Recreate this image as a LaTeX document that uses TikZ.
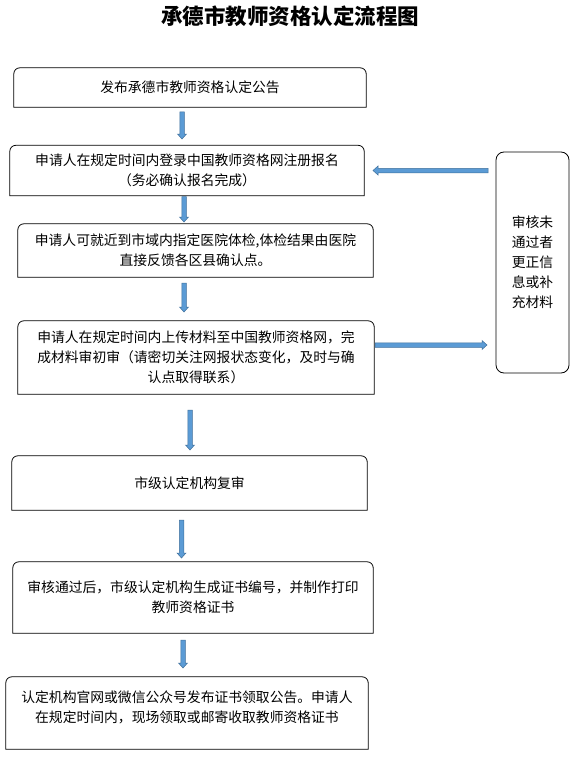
\documentclass[tikz,border=0pt]{standalone}
\usepackage{fontspec}
\setmainfont{Noto Sans CJK SC}
\usetikzlibrary{calc}
\definecolor{arrfill}{HTML}{5B9BD5}
\definecolor{arredge}{HTML}{41719C}
\tikzset{
  boxtext/.style={inner sep=0pt, align=center, font=\fontsize{13.8}{20}\selectfont},
  boxline/.style={draw=black, line width=0.8pt},
  blockarrow/.style={fill=arrfill, draw=arredge, line width=0.5pt},
}
\newcommand\topbox[1]{\draw[boxline] (#1.south west) -- ([yshift=-6pt]#1.north west) arc[start angle=180,end angle=90,radius=6pt] -- ([xshift=-6pt]#1.north east) arc[start angle=90,end angle=0,radius=6pt] -- (#1.south east) -- cycle;}
\newcommand\arrowdown[2]{\draw[blockarrow] let \p1=(#1),\p2=(#2) in (\x1-2.25pt,\y1) -- (\x1-2.25pt,\y2+5pt) -- (\x1-4.5pt,\y2+5pt) -- (\x1,\y2) -- (\x1+4.5pt,\y2+5pt) -- (\x1+2.25pt,\y2+5pt) -- (\x1+2.25pt,\y1) -- cycle;}
\newcommand\arrowleft[2]{\draw[blockarrow] let \p1=(#1),\p2=(#2) in (\x1,\y1-2.25pt) -- (\x2+5pt,\y1-2.25pt) -- (\x2+5pt,\y1-4.5pt) -- (\x2,\y1) -- (\x2+5pt,\y1+4.5pt) -- (\x2+5pt,\y1+2.25pt) -- (\x1,\y1+2.25pt) -- cycle;}
\newcommand\arrowright[2]{\draw[blockarrow] let \p1=(#1),\p2=(#2) in (\x1,\y1-2.25pt) -- (\x2-5pt,\y1-2.25pt) -- (\x2-5pt,\y1-4.5pt) -- (\x2,\y1) -- (\x2-5pt,\y1+4.5pt) -- (\x2-5pt,\y1+2.25pt) -- (\x1,\y1+2.25pt) -- cycle;}
\begin{document}
\begin{tikzpicture}[x=1pt,y=1pt]
\useasboundingbox[fill=white] (0,0) rectangle (581,-765);
% title
\node[font=\fontsize{21.5}{26}\selectfont\bfseries, inner sep=0pt] (title) at (290,-16.5) {承德市教师资格认定流程图};
% boxes
\node[boxtext, minimum width=352pt, minimum height=39pt] (b1) at (190,-87.5) {发布承德市教师资格认定公告};
\node[boxtext, minimum width=354pt, minimum height=50pt] (b2) at (187,-170.5) {申请人在规定时间内登录中国教师资格网注册报名\\（务必确认报名完成）};
\node[boxtext, minimum width=355pt, minimum height=53pt] (b3) at (195.5,-250.5) {申请人可就近到市域内指定医院体检,体检结果由医院\\直接反馈各区县确认点。};
\node[boxtext, minimum width=356pt, minimum height=73pt] (b4) at (196,-357.5) {申请人在规定时间内上传材料至中国教师资格网，完\\成材料审初审（请密切关注网报状态变化，及时与确\\认点取得联系）};
\node[boxtext, minimum width=355pt, minimum height=54pt] (b5) at (189.5,-483) {市级认定机构复审};
\node[boxtext, minimum width=360pt, minimum height=71pt] (b6) at (193,-597.5) {审核通过后，市级认定机构生成证书编号，并制作打印\\教师资格证书};
\node[boxtext, minimum width=362pt, minimum height=72pt] (b7) at (187,-713) {};
\node[boxtext] (t7) at (187,-707) {认定机构官网或微信公众号发布证书领取公告。申请人\\在规定时间内，现场领取或邮寄收取教师资格证书};
\node[boxtext, minimum width=73pt, minimum height=221pt, rounded corners=8pt, boxline] (r) at (532.5,-262.5) {审核未\\通过者\\更正信\\息或补\\充材料};
\foreach \b in {b1,b2,b3,b4,b5,b6,b7} {\topbox{\b}}
% arrow end points
\coordinate (a1s) at (182,-112);  \coordinate (a1e) at (182,-139);
\coordinate (a2s) at (184,-196.5);  \coordinate (a2e) at (184,-222);
\coordinate (a3s) at (184,-283);  \coordinate (a3e) at (184,-312);
\coordinate (a4s) at (190,-410);  \coordinate (a4e) at (190,-450);
\coordinate (a5s) at (181.5,-520);  \coordinate (a5e) at (181.5,-558);
\coordinate (a6s) at (183,-640);  \coordinate (a6e) at (183,-668);
\coordinate (ls) at (488,-170.5); \coordinate (le) at (373,-170.5);
\coordinate (rs) at (375,-345); \coordinate (re) at (487,-345);
\arrowdown{a1s}{a1e}
\arrowdown{a2s}{a2e}
\arrowdown{a3s}{a3e}
\arrowdown{a4s}{a4e}
\arrowdown{a5s}{a5e}
\arrowdown{a6s}{a6e}
\arrowleft{ls}{le}
\arrowright{rs}{re}
\end{tikzpicture}
\end{document}
